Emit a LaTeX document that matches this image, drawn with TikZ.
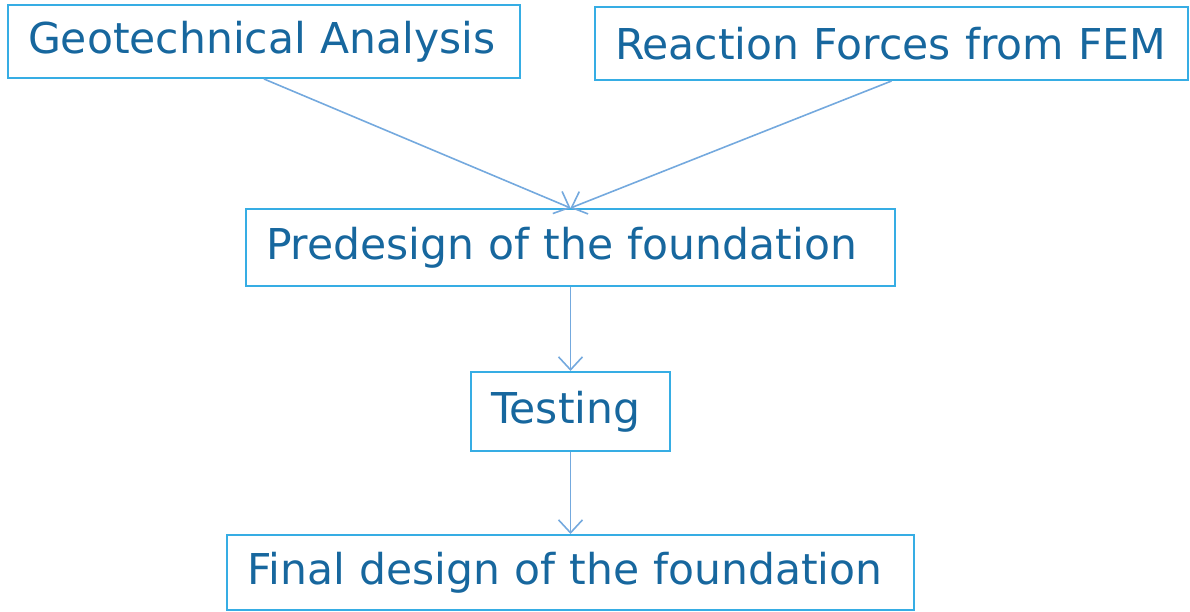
\documentclass[tikz,border=0pt]{standalone}
\usepackage{fontspec}
\setmainfont{DejaVu Sans}
\usetikzlibrary{arrows.meta}
\definecolor{txtblue}{HTML}{17679E}
\definecolor{boxblue}{HTML}{36ADE4}
\definecolor{arrblue}{HTML}{74A9DE}
\tikzset{
  box/.style={draw=boxblue, line width=2pt, text=txtblue, inner xsep=20pt, inner ysep=0pt,
    align=left, font=\fontsize{42.5}{48}\selectfont, anchor=center},
  conn/.style={draw=arrblue, line width=1.6pt, -{Straight Barb[length=13pt,width=24pt,line width=1.6pt]}}
}
\begin{document}
\begin{tikzpicture}[x=1pt,y=-1pt]
\useasboundingbox (0,0) rectangle (1190,612);
\node[box, text width=472pt, minimum height=73pt] (geo) at (264,41.5) {Geotechnical Analysis};
\node[box, text width=553pt, minimum height=73pt] (fem) at (891.5,43.5) {Reaction Forces from FEM};
\node[box, text width=609pt, minimum height=77pt] (pre) at (570.5,247.5) {Predesign of the foundation};
\node[box, text width=159pt, minimum height=79pt] (test) at (570.5,411.5) {Testing};
\node[box, text width=647pt, minimum height=75pt] (fin) at (570.5,572.5) {Final design of the foundation};
\draw[conn] (geo.south) -- (pre.north);
\draw[conn] (fem.south) -- (pre.north);
\draw[conn] (pre.south) -- (test.north);
\draw[conn] (test.south) -- (fin.north);
\end{tikzpicture}
\end{document}
